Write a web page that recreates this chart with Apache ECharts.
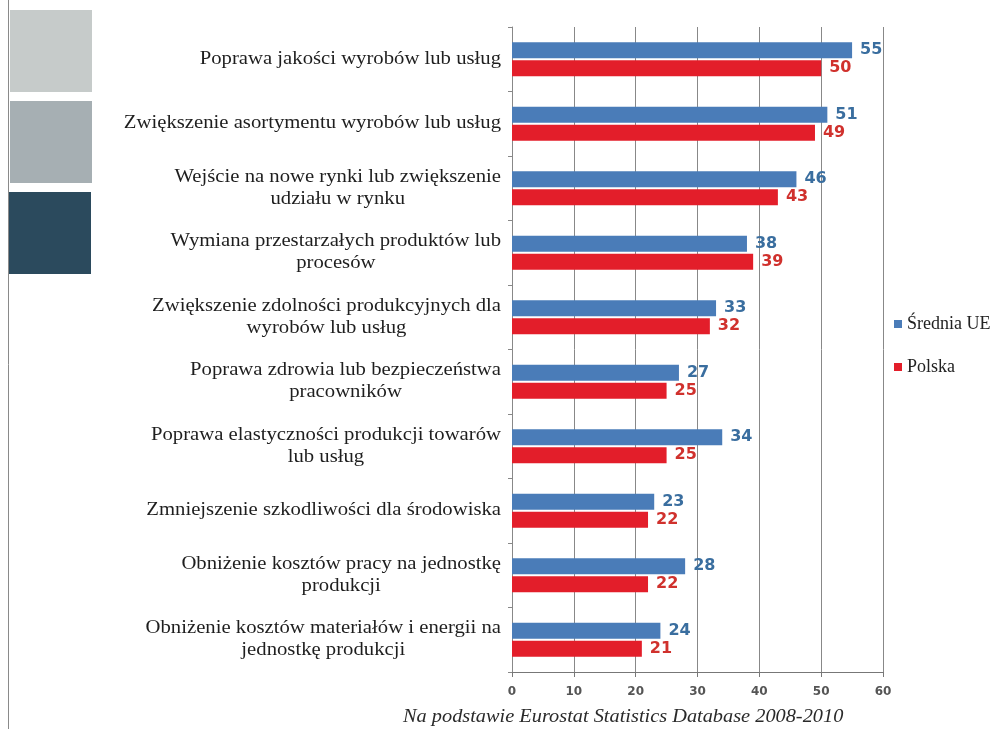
<!DOCTYPE html>
<html>
<head>
<meta charset="utf-8">
<script src="https://cdn.jsdelivr.net/npm/echarts@6/dist/echarts.min.js"></script>
<style>
  html, body { margin: 0; padding: 0; background: #ffffff; }
  #chart { width: 1003px; height: 729px; }
</style>
</head>
<body>
<div id="chart"></div>
<script>
// Cele działalności innowacyjnej – odsetek przedsiębiorstw (%)
const categories = [
  'Poprawa jakości wyrobów lub usług',
  'Zwiększenie asortymentu wyrobów lub usług',
  'Wejście na nowe rynki lub zwiększenie\nudziału w rynku',
  'Wymiana przestarzałych produktów lub\nprocesów',
  'Zwiększenie zdolności produkcyjnych dla\nwyrobów lub usług',
  'Poprawa zdrowia lub bezpieczeństwa\npracowników',
  'Poprawa elastyczności produkcji towarów\nlub usług',
  'Zmniejszenie szkodliwości dla środowiska',
  'Obniżenie kosztów pracy na jednostkę\nprodukcji',
  'Obniżenie kosztów materiałów i energii na\njednostkę produkcji'
];
const sredniaUE = [55, 51, 46, 38, 33, 27, 34, 23, 28, 24];
const polska    = [50, 49, 43, 39, 32, 25, 25, 22, 22, 21];
const xTicks = { min: 0, max: 60, interval: 10 };
const sourceNote = 'Na podstawie Eurostat Statistics Database 2008-2010';

const SERIF = '"Liberation Serif", "Times New Roman", serif';
const CAT_FONT = '18px ' + SERIF;
const CAT_STRETCH = 1.15;
const CAT_MARGIN = 11;

// width measurement for centring wrapped category labels in a right-aligned block
const measureCtx = document.createElement('canvas').getContext('2d');
function blockWidth(text, font) {
  measureCtx.font = font;
  return Math.max.apply(null, text.split('\n').map(l => measureCtx.measureText(l).width));
}

const chart = echarts.init(document.getElementById('chart'), null, { renderer: 'canvas' });

const valueLabel = (color) => ({
  show: true,
  position: 'right',
  distance: 8,
  color: color,
  fontFamily: '"DejaVu Sans", sans-serif',
  fontWeight: 'bold',
  fontSize: 16
});

chart.setOption({
  backgroundColor: '#ffffff',
  animation: false,
  grid: { left: 512, right: 120, top: 27, bottom: 57, containLabel: false },
  legend: {
    orient: 'vertical',
    left: 889,
    top: 310,
    itemWidth: 8,
    itemHeight: 8,
    itemGap: 25,
    icon: 'rect',
    textStyle: { fontFamily: SERIF, fontSize: 18, color: '#222' },
    data: ['Średnia UE', 'Polska']
  },
  xAxis: {
    type: 'value',
    min: xTicks.min,
    max: xTicks.max,
    interval: xTicks.interval,
    axisLine: { show: true, lineStyle: { color: '#777', width: 1 } },
    axisTick: { show: true, length: 5, lineStyle: { color: '#777' } },
    axisLabel: {
      color: '#555',
      fontFamily: '"DejaVu Sans", sans-serif',
      fontWeight: 'bold',
      fontSize: 12,
      margin: 14
    },
    splitLine: { show: true, lineStyle: { color: '#888', width: 1 } }
  },
  yAxis: {
    type: 'category',
    inverse: true,
    data: categories,
    axisLine: { show: true, lineStyle: { color: '#888' } },
    axisTick: { show: true, length: 4, lineStyle: { color: '#888' } },
    axisLabel: { show: false }
  },
  series: [
    {
      name: 'Średnia UE',
      type: 'bar',
      data: sredniaUE,
      barWidth: 16,
      barGap: '12%',
      itemStyle: { color: '#4a7cb8' },
      label: valueLabel('#3a6e9f')
    },
    {
      name: 'Polska',
      type: 'bar',
      data: polska,
      barWidth: 16,
      itemStyle: { color: '#e31e2a' },
      label: valueLabel('#d0312d')
    },
    {
      // category captions: each block ends at the axis, wrapped lines centred
      name: 'labels',
      type: 'custom',
      coordinateSystem: 'cartesian2d',
      silent: true,
      data: categories.map((c, i) => [0, i]),
      encode: { x: 0, y: 1 },
      renderItem: function (params, api) {
        const p = api.coord([0, api.value(1)]);
        const text = categories[params.dataIndex];
        const w = blockWidth(text, CAT_FONT) * CAT_STRETCH;
        return {
          type: 'text',
          x: p[0] - CAT_MARGIN - w / 2,
          y: p[1],
          scaleX: CAT_STRETCH,
          style: {
            text: text,
            font: CAT_FONT,
            lineHeight: 22,
            fill: '#1e1e1e',
            align: 'center',
            verticalAlign: 'middle'
          }
        };
      }
    }
  ],
  graphic: [
    // left edge rule and decorative swatches
    { type: 'line', shape: { x1: 8.5, y1: 0, x2: 8.5, y2: 729 }, style: { stroke: '#8a8a8a', lineWidth: 1 } },
    { type: 'rect', shape: { x: 10, y: 10, width: 82, height: 82 }, style: { fill: '#c6cbca' } },
    { type: 'rect', shape: { x: 10, y: 101, width: 82, height: 82 }, style: { fill: '#a6afb3' } },
    { type: 'rect', shape: { x: 9, y: 192, width: 82, height: 82 }, style: { fill: '#2b4a5d' } },
    {
      type: 'text',
      x: 403,
      y: 717,
      scaleX: 1.07,
      style: {
        text: sourceNote,
        fill: '#2a2a2a',
        font: 'italic 19px ' + SERIF,
        verticalAlign: 'middle'
      }
    }
  ]
});
</script>
</body>
</html>
